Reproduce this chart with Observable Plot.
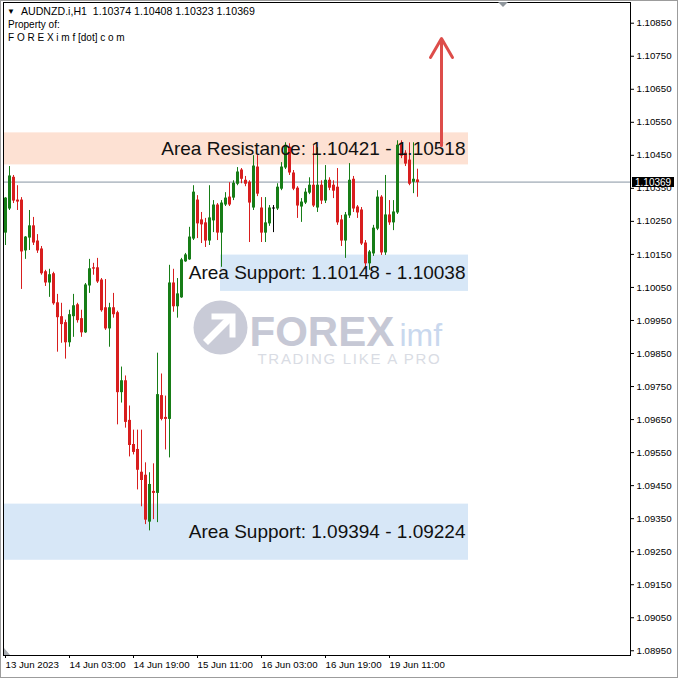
<!DOCTYPE html>
<html><head><meta charset="utf-8">
<script src="https://cdn.jsdelivr.net/npm/d3@7"></script>
<script src="https://cdn.jsdelivr.net/npm/@observablehq/plot@0.6"></script>
<style>
html,body{margin:0;padding:0;background:#fff;}
#chart{width:678px;height:678px;position:relative;overflow:hidden;}
#chart svg{display:block;}
#chart:after{content:"";position:absolute;left:0;top:0;right:0;bottom:0;box-shadow:inset 0 0 0 1px #9c9c9c;pointer-events:none;}
</style></head><body><div id="chart"></div>
<script>
// ---- data ----
const symbolName = "AUDNZD.i,H1";
const opens = [
1.10216,1.10289,1.10382,1.10313,1.10313,1.10162,1.10201,1.10235,1.10189,1.10165,
1.10096,1.10065,1.10090,1.10002,1.09960,1.09942,1.09884,1.09963,1.09996,1.09954,
1.09914,1.10056,1.10108,1.10108,1.10071,1.09987,1.09926,1.09987,1.09972,1.09733,
1.09766,1.09646,1.09573,1.09558,1.09489,1.09480,1.09341,1.09431,1.09428,1.09721,
1.09655,1.09652,1.10062,1.09993,1.10020,1.10129,1.10135,1.10198,1.10313,1.10253,
1.10244,1.10192,1.10253,1.10298,1.10216,1.10301,1.10322,1.10322,1.10364,1.10404,
1.10373,1.10367,1.10292,1.10413,1.10289,1.10216,1.10244,1.10289,1.10289,1.10349,
1.10413,1.10473,1.10395,1.10349,1.10295,1.10307,1.10337,1.10358,1.10292,1.10358,
1.10313,1.10373,1.10358,1.10352,1.10253,1.10192,1.10268,1.10376,1.10292,1.10283,
1.10183,1.10123,1.10153,1.10228,1.10322,1.10156,1.10268,1.10247,1.10277,1.10485,
1.10455,1.10434,1.10370,1.10374];
const highs = [
1.10322,1.10416,1.10389,1.10358,1.10322,1.10204,1.10283,1.10262,1.10210,1.10174,
1.10102,1.10105,1.10096,1.10029,1.10002,1.09951,1.09981,1.10029,1.10002,1.09981,
1.10062,1.10135,1.10123,1.10138,1.10077,1.10074,1.10002,1.10032,1.09978,1.09809,
1.09782,1.09691,1.09618,1.09618,1.09618,1.09519,1.09489,1.09516,1.09851,1.09788,
1.09721,1.10117,1.10105,1.10077,1.10138,1.10153,1.10232,1.10358,1.10328,1.10277,
1.10259,1.10358,1.10313,1.10304,1.10313,1.10337,1.10367,1.10373,1.10413,1.10410,
1.10386,1.10373,1.10449,1.10449,1.10322,1.10322,1.10298,1.10298,1.10364,1.10428,
1.10488,1.10485,1.10404,1.10355,1.10319,1.10349,1.10382,1.10479,1.10473,1.10373,
1.10419,1.10382,1.10373,1.10410,1.10268,1.10277,1.10425,1.10386,1.10298,1.10292,
1.10192,1.10162,1.10238,1.10343,1.10328,1.10389,1.10313,1.10313,1.10494,1.10494,
1.10464,1.10488,1.10488,1.10408];
const lows = [
1.10177,1.10283,1.10304,1.10283,1.10044,1.10135,1.10162,1.10177,1.10153,1.10087,
1.10053,1.10020,1.09996,1.09854,1.09881,1.09833,1.09869,1.09899,1.09942,1.09899,
1.09911,1.10032,1.10087,1.10062,1.09975,1.09920,1.09869,1.09957,1.09634,1.09700,
1.09624,1.09537,1.09543,1.09437,1.09386,1.09332,1.09313,1.09347,1.09338,1.09646,
1.09558,1.09534,1.09975,1.09957,1.10017,1.10126,1.10132,1.10192,1.10198,1.10183,
1.10171,1.10177,1.10216,1.10192,1.10111,1.10295,1.10295,1.10313,1.10358,1.10364,
1.10355,1.10186,1.10283,1.10325,1.10186,1.10186,1.10235,1.10216,1.10283,1.10343,
1.10407,1.10389,1.10343,1.10259,1.10247,1.10301,1.10331,1.10292,1.10277,1.10301,
1.10304,1.10343,1.10319,1.10238,1.10174,1.10138,1.10259,1.10277,1.10259,1.10177,
1.10108,1.10102,1.10144,1.10222,1.10147,1.10147,1.10238,1.10222,1.10271,1.10440,
1.10416,1.10358,1.10334,1.10323];
const closes = [
1.10319,1.10386,1.10313,1.10310,1.10159,1.10201,1.10235,1.10186,1.10162,1.10093,
1.10065,1.10087,1.10002,1.09960,1.09939,1.09884,1.09966,1.09993,1.09951,1.09914,
1.10056,1.10105,1.10107,1.10068,1.09981,1.09926,1.09987,1.09969,1.09733,1.09766,
1.09643,1.09573,1.09552,1.09498,1.09467,1.09347,1.09452,1.09428,1.09724,1.09652,
1.09652,1.10062,1.09993,1.10029,1.10132,1.10147,1.10201,1.10337,1.10244,1.10241,
1.10192,1.10259,1.10298,1.10216,1.10304,1.10319,1.10301,1.10364,1.10398,1.10379,
1.10364,1.10307,1.10416,1.10334,1.10216,1.10244,1.10289,1.10289,1.10352,1.10413,
1.10479,1.10398,1.10349,1.10298,1.10307,1.10337,1.10358,1.10298,1.10358,1.10313,
1.10373,1.10352,1.10343,1.10247,1.10192,1.10268,1.10373,1.10289,1.10277,1.10183,
1.10123,1.10156,1.10228,1.10322,1.10156,1.10268,1.10247,1.10277,1.10479,1.10449,
1.10425,1.10364,1.10376,1.10369];

const timeTickBars = [0, 16, 32, 48, 64, 80, 96];
const timeTickLabels = ["13 Jun 2023","14 Jun 03:00","14 Jun 19:00","15 Jun 11:00","16 Jun 03:00","16 Jun 19:00","19 Jun 11:00"];
const priceTicks = [1.08950,1.09050,1.09150,1.09250,1.09350,1.09450,1.09550,1.09650,1.09750,1.09850,
                    1.09950,1.10050,1.10150,1.10250,1.10350,1.10450,1.10550,1.10650,1.10750,1.10850];

const zoneNames = ["Area Resistance","Area Support","Area Support"];
const zoneFrom  = [1.10421, 1.10148, 1.09394];
const zoneTo    = [1.10518, 1.10038, 1.09224];
const zoneKinds = ["resistance","support","support"];
const zoneStartBar = [-0.5, 53.75, -0.5];
const zoneEndBar   = [115.75, 115.75, 115.75];

const arrowBar = [109];
const arrowFrom = [1.10480];
const arrowTo = [1.10804];
const chartShiftBar = 124.5;

const headerLines = ["Property of:", "F O R E X i m f [dot] c o m"];
const logoWord = ["FOREX", "imf"];
const logoTagline = "TRADING LIKE A PRO";

// ---- build tables ----
const candles = opens.map((o, i) => ({
  i, open: o, high: highs[i], low: lows[i], close: closes[i],
  top: Math.max(o, closes[i]), bot: Math.min(o, closes[i])
}));
const zones = zoneNames.map((n, k) => ({
  name: n, from: zoneFrom[k], to: zoneTo[k], kind: zoneKinds[k],
  start: zoneStartBar[k], end: zoneEndBar[k],
  lo: Math.min(zoneFrom[k], zoneTo[k]), hi: Math.max(zoneFrom[k], zoneTo[k]),
  mid: (zoneFrom[k] + zoneTo[k]) / 2,
  label: `${n}: ${zoneFrom[k].toFixed(5)} - ${zoneTo[k].toFixed(5)}`
}));
const arrows = arrowBar.map((b, k) => ({bar: b, from: arrowFrom[k], to: arrowTo[k]}));
const last = candles[candles.length - 1];

const GREEN = "#177d17", RED = "#d81e1e";
const candleColor = d => d.close > d.open ? GREEN : d.close < d.open ? RED : "#000";
const FONT = "'Liberation Sans', Arial, sans-serif";

function watermark(index, scales, values, dims) {
  const cx = (dims.marginLeft + dims.width - dims.marginRight) / 2;
  const cy = (dims.marginTop + dims.height - dims.marginBottom) / 2;
  const g = d3.create("svg:g").attr("text-anchor", "start");
  const lx = cx - 96, ly = cy - 1;
  g.append("circle").attr("cx", lx).attr("cy", ly).attr("r", 27).attr("fill", "#c9cbd7");
  g.append("path").attr("d", `M${lx-15},${ly+15} L${lx+10},${ly-10}`)
    .attr("stroke", "#fff").attr("stroke-width", 7).attr("fill", "none");
  g.append("path").attr("d", `M${lx-9},${ly-11} L${lx+12},${ly-11} L${lx+12},${ly+10}`)
    .attr("stroke", "#fff").attr("stroke-width", 6).attr("fill", "none");
  g.append("text").attr("x", cx - 67).attr("y", cy + 17)
    .attr("font-family", FONT).attr("font-weight", "bold").attr("font-size", 42)
    .attr("fill", "#c6c8d5").text(logoWord[0]);
  g.append("text").attr("x", cx + 83).attr("y", cy + 17)
    .attr("font-family", FONT).attr("font-size", 32)
    .attr("fill", "#c9d8ee").text(logoWord[1]);
  g.append("text").attr("x", cx - 59).attr("y", cy + 35)
    .attr("font-family", FONT).attr("font-size", 15).attr("letter-spacing", 1.7)
    .attr("fill", "#d9dce4").text(logoTagline);
  return g.node();
}

function priceBox(index, scales, values, dims) {
  const y = Math.round(scales.y(last.close));
  const xr = dims.width - dims.marginRight;
  const g = d3.create("svg:g").attr("text-anchor", "start");
  g.append("rect").attr("x", xr + 2).attr("y", y - 5).attr("width", 42).attr("height", 10).attr("fill", "#000");
  g.append("text").attr("x", xr + 5).attr("y", y + 4)
    .attr("font-family", FONT).attr("font-size", 10).attr("fill", "#fff").text(last.close.toFixed(5));
  return g.node();
}

function markers(index, scales, values, dims) {
  const g = d3.create("svg:g").attr("fill", "#8f969c");
  const sx = scales.x(chartShiftBar), top = dims.marginTop;
  g.append("path").attr("d", `M${sx-5},${top} L${sx+5},${top} L${sx},${top+5} Z`);
  const l = dims.marginLeft, b = dims.height - dims.marginBottom;
  g.append("path").attr("d", `M${l+1},${b} L${l+1},${b-7} L${l+7},${b} Z`).attr("fill", "#a9adb2");
  return g.node();
}

function header(index, scales, values, dims) {
  const g = d3.create("svg:g").attr("font-family", FONT).attr("font-size", 10.6)
    .attr("fill", "#000").attr("text-anchor", "start");
  g.append("text").attr("x", 7).attr("y", 14).attr("font-size", 8).text("▼");
  g.append("text").attr("x", 21).attr("y", 15).attr("xml:space", "preserve")
    .text(`${symbolName}  ${last.open.toFixed(5)} ${last.high.toFixed(5)} ${last.low.toFixed(5)} ${last.close.toFixed(5)}`);
  headerLines.forEach((t, k) => g.append("text").attr("x", 8).attr("y", 28 + 13 * k).attr("font-size", 10).text(t));
  return g.node();
}

const chart = Plot.plot({
  width: 678, height: 678,
  marginLeft: 3, marginTop: 2, marginRight: 48, marginBottom: 23,
  x: {type: "linear", domain: [-0.5, 156.25]},
  y: {domain: [1.089357, 1.109127]},
  style: {fontFamily: FONT, fontSize: "9.7px", color: "#000", background: "#fff", overflow: "visible"},
  marks: [
    Plot.rect(zones, {x1: "start", x2: "end", y1: "lo", y2: "hi",
      fill: d => d.kind === "resistance" ? "#fde1d3" : "#d7e7f7"}),
    watermark,
    Plot.ruleY([last.close], {stroke: "#8795a3", strokeWidth: 1}),
    Plot.ruleX(candles, {x: "i", y1: "low", y2: "high", stroke: candleColor, strokeWidth: 1}),
    Plot.ruleX(candles, {x: "i", y1: "top", y2: "bot", stroke: candleColor, strokeWidth: 3, insetTop: -0.5, insetBottom: -0.5}),
    Plot.text(zones, {x: "end", y: "mid", text: "label", textAnchor: "end", dx: -3, fontSize: 19, fill: "#111", fontFamily: FONT}),
    Plot.arrow(arrows, {x1: "bar", x2: "bar", y1: "from", y2: "to", stroke: "#dd4d4a", strokeWidth: 3, headAngle: 60, headLength: 11, bend: 0}),
    Plot.axisY({anchor: "right", ticks: priceTicks, tickFormat: d => d.toFixed(5), tickSize: 3, tickPadding: 3, label: null, stroke: "#000", fill: "#000"}),
    Plot.axisX({anchor: "bottom", ticks: timeTickBars, tickFormat: d => timeTickLabels[timeTickBars.indexOf(d)],
      textAnchor: "start", tickSize: 3, tickPadding: 3, label: null, stroke: "#000", fill: "#000"}),
    Plot.frame({stroke: "#000"}),
    markers,
    priceBox,
    header
  ]
});
document.getElementById("chart").appendChild(chart);
</script>
</body></html>
